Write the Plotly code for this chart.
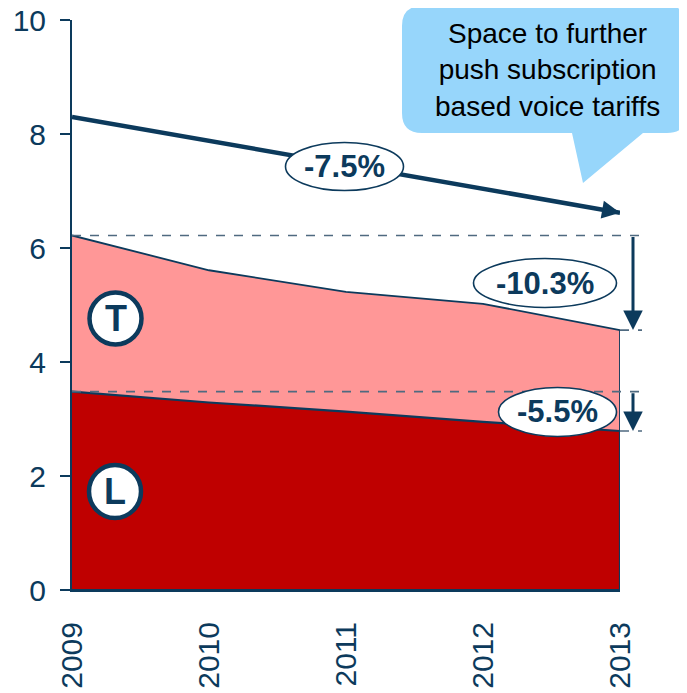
import plotly.graph_objects as go

# ---------------- data ----------------
years = [2009, 2010, 2011, 2012, 2013]
year_labels = ["2009", "2010", "2011", "2012", "2013"]
L_values = [3.48, 3.29, 3.13, 2.95, 2.79]          # dark red segment
T_values = [2.74, 2.32, 2.10, 2.07, 1.77]          # pink segment (stacked on L)
trend_years = [2009, 2013]
trend_values = [8.30, 6.62]
cagr_total = "-7.5%"
cagr_T = "-10.3%"
cagr_L = "-5.5%"
y_ticks = [0, 2, 4, 6, 8, 10]
callout_text = "Space to further<br>push subscription<br>based voice tariffs"

# ---------------- style ----------------
NAVY = "#0C3A5C"
DARK_RED = "#BF0000"
PINK = "#FF9797"
DASH = "#4F6A80"
BUBBLE = "#97D6FB"
FONT = "Liberation Sans, Arial, sans-serif"

OFF = 8                      # page body margin of the html page
W, H = 687 - OFF, 693 - OFF
# plot area in page pixels
PL, PR, PT, PB = 72, 620, 20, 590
X0, X1 = years[0], years[-1]
Y0, Y1 = 0, 10


def pxx(p):  # page pixel x -> paper
    return (p - PL) / (PR - PL)


def pyy(p):  # page pixel y -> paper
    return (PB - p) / (PB - PT)


def dx(v):  # data x -> paper
    return (v - X0) / (X1 - X0)


def dy(v):  # data y -> paper
    return (v - Y0) / (Y1 - Y0)


top_values = [l + t for l, t in zip(L_values, T_values)]

fig = go.Figure()

# pink (T) area: top line down to zero
fig.add_trace(go.Scatter(
    x=years + [years[-1], years[0]],
    y=top_values + [0, 0],
    fill="toself", fillcolor=PINK, mode="lines",
    line=dict(color=NAVY, width=1.8), hoverinfo="skip", showlegend=False,
))
# dark red (L) area
fig.add_trace(go.Scatter(
    x=years + [years[-1], years[0]],
    y=L_values + [0, 0],
    fill="toself", fillcolor=DARK_RED, mode="lines",
    line=dict(color=NAVY, width=2.2), hoverinfo="skip", showlegend=False,
))
# trend line
fig.add_trace(go.Scatter(
    x=trend_years, y=trend_values, mode="lines",
    line=dict(color=NAVY, width=4.5), hoverinfo="skip", showlegend=False,
))

shapes = []
annotations = []

# dashed reference lines
x_dash_end = pxx(642)
for v, start in [(top_values[0], dx(years[0])), (top_values[-1], dx(years[-1])),
                 (L_values[0], dx(years[0])), (L_values[-1], dx(years[-1]))]:
    shapes.append(dict(type="line", xref="paper", yref="paper",
                       x0=start, x1=x_dash_end, y0=dy(v), y1=dy(v),
                       line=dict(color=DASH, width=1.6, dash="dash"), layer="above"))

# callout bubble
pts = ("M 422 6 L 667 6 Q 687 6 687 26 L 687 113 Q 687 133 667 133 "
       "L 643 133 L 583 183 L 572 133 L 422 133 Q 402 133 402 113 "
       "L 402 26 Q 402 6 422 6 Z")
tok = pts.split()
out = []
i = 0
while i < len(tok):
    t = tok[i]
    if t.isalpha():
        out.append(t)
        i += 1
    else:
        xp, yp = float(tok[i]), float(tok[i + 1])
        out.append(f"{pxx(xp):.5f},{pyy(yp):.5f}")
        i += 2
shapes.append(dict(type="path", xref="paper", yref="paper", path=" ".join(out),
                   fillcolor=BUBBLE, line=dict(width=0), layer="above"))
annotations.append(dict(xref="paper", yref="paper", x=pxx(547), y=pyy(70),
                        xanchor="center", yanchor="middle",
                        text=callout_text, showarrow=False, align="center",
                        font=dict(family=FONT, size=28, color="#000000")))


def oval(cx, cy, w, h, text, size, lw):
    shapes.append(dict(type="circle", xref="paper", yref="paper",
                       x0=pxx(cx - w / 2), x1=pxx(cx + w / 2),
                       y0=pyy(cy + h / 2), y1=pyy(cy - h / 2),
                       fillcolor="white", line=dict(color=NAVY, width=lw),
                       layer="above"))
    annotations.append(dict(xref="paper", yref="paper", x=pxx(cx), y=pyy(cy),
                            xanchor="center", yanchor="middle",
                            text=f"<b>{text}</b>", showarrow=False,
                            font=dict(family=FONT, size=size, color=NAVY)))


oval(344.5, 166.5, 118, 48, cagr_total, 31, 1.6)
oval(545, 283, 143, 49, cagr_T, 31, 1.6)
oval(557.5, 412, 118, 49, cagr_L, 31, 1.6)
oval(115.5, 318.5, 52, 52, "T", 36, 4.5)
oval(115, 491.5, 52, 53, "L", 36, 4.5)

# arrowhead for the trend line
annotations.append(dict(xref="x", yref="y", x=trend_years[-1], y=trend_values[-1],
                        axref="pixel", ayref="pixel", ax=-18, ay=-3.2,
                        showarrow=True, arrowhead=2, arrowsize=0.8,
                        arrowwidth=4.5, arrowcolor=NAVY, standoff=0, text=""))

# vertical change arrows
for a, b in [(top_values[0], top_values[-1]), (L_values[0], L_values[-1])]:
    annotations.append(dict(xref="paper", yref="y", x=pxx(633), y=b,
                            axref="pixel", ayref="y", ax=0, ay=a,
                            showarrow=True, arrowhead=2, arrowsize=1.3,
                            arrowwidth=3, arrowcolor=NAVY, standoff=0, text=""))

fig.update_layout(
    width=W, height=H,
    margin=dict(l=PL - OFF, r=687 - PR, t=PT - OFF, b=693 - PB, autoexpand=False),
    paper_bgcolor="white", plot_bgcolor="white",
    font=dict(family=FONT, color=NAVY),
    showlegend=False,
    shapes=shapes, annotations=annotations,
    xaxis=dict(range=[X0, X1], tickvals=years, ticktext=year_labels,
               tickangle=-90, tickfont=dict(size=30, color=NAVY, family=FONT),
               showline=True, linecolor=NAVY, linewidth=2, ticks="",
               showgrid=False, zeroline=False, ticklabelstandoff=18,
               automargin=False),
    yaxis=dict(range=[Y0, Y1 + 0.0005], tickvals=y_ticks,
               tickfont=dict(size=30, color=NAVY, family=FONT),
               showline=True, linecolor=NAVY, linewidth=2,
               ticks="outside", ticklen=10, tickwidth=2, tickcolor=NAVY,
               showgrid=False, zeroline=False, ticklabelstandoff=8,
               ticklabeloverflow="allow",
               automargin=False),
)

fig.write_html("out.html")
